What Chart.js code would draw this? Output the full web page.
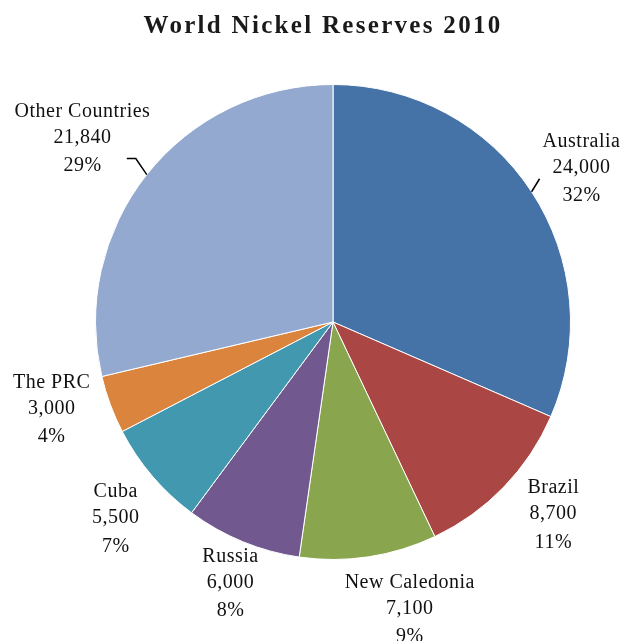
<!DOCTYPE html>
<html>
<head>
<meta charset="utf-8">
<script src="https://cdn.jsdelivr.net/npm/chart.js@4/dist/chart.umd.min.js"></script>
<style>
  html, body { margin: 0; padding: 0; background: #fff; }
  #wrap { width: 624px; height: 641px; }
</style>
</head>
<body>
<div id="wrap"><canvas id="c" width="624" height="641"></canvas></div>
<script>
// World nickel reserves, 2010 (thousand tonnes), clockwise from 12 o'clock
const countries = ['Australia', 'Brazil', 'New Caledonia', 'Russia', 'Cuba', 'The PRC', 'Other Countries'];
const reserves = [24000, 8700, 7100, 6000, 5500, 3000, 21840];
const sliceColors = ['#4572A7', '#AA4643', '#89A54E', '#71588F', '#4198AF', '#DB843D', '#93A9CF'];
const chartTitle = 'World Nickel Reserves 2010';

// Label placement: distance from centre (in radii) and an angular nudge (degrees)
const labelDistance = [1.232, 1.23, 1.249, 1.179, 1.232, 1.239, 1.31];
const labelNudge = [1.4, -3, -6.4, -0.9, -1.6, 3.3, -2];

const total = reserves.reduce((a, b) => a + b, 0);
const SERIF = '"Liberation Serif", "Times New Roman", serif';

const titlePlugin = {
  id: 'titleText',
  afterDraw(chart) {
    const ctx = chart.ctx;
    ctx.save();
    ctx.font = 'bold 25px ' + SERIF;
    ctx.letterSpacing = '2.3px';
    ctx.fillStyle = '#1a1a1a';
    ctx.textAlign = 'center';
    ctx.textBaseline = 'alphabetic';
    ctx.fillText(chartTitle, 323, 33);
    ctx.restore();
  }
};

const sliceLabels = {
  id: 'sliceLabels',
  afterDatasetsDraw(chart) {
    const ctx = chart.ctx;
    const arcs = chart.getDatasetMeta(0).data;
    ctx.save();
    ctx.font = '20px ' + SERIF;
    ctx.letterSpacing = '0.5px';
    ctx.fillStyle = '#111';
    ctx.textAlign = 'center';
    ctx.textBaseline = 'middle';
    arcs.forEach((arc, i) => {
      const p = arc.getProps(['x', 'y', 'startAngle', 'endAngle', 'outerRadius'], true);
      const mid = (p.startAngle + p.endAngle) / 2;
      const a = mid + labelNudge[i] * Math.PI / 180;
      const lx = p.x + Math.cos(a) * p.outerRadius * labelDistance[i];
      const ly = p.y + Math.sin(a) * p.outerRadius * labelDistance[i];
      const pct = Math.round(reserves[i] / total * 100) + '%';
      ctx.fillText(countries[i], lx, ly - 26);
      ctx.fillText(reserves[i].toLocaleString('en-US'), lx, ly);
      ctx.fillText(pct, lx, ly + 28.5);

      // leader lines for the two large slices, starting on the slice edge
      if (i === 0 || i === 6) {
        const r = p.outerRadius;
        const sx = p.x + Math.cos(mid) * r;
        const sy = p.y + Math.sin(mid) * r;
        ctx.beginPath();
        ctx.strokeStyle = '#000';
        ctx.lineWidth = 1.5;
        ctx.moveTo(sx, sy);
        if (i === 0) {
          ctx.lineTo(sx + 8, sy - 13);
        } else {
          ctx.lineTo(sx - 11, sy - 16);
          ctx.lineTo(sx - 20, sy - 16);
        }
        ctx.stroke();
      }
    });
    ctx.restore();
  }
};

new Chart(document.getElementById('c'), {
  type: 'pie',
  data: {
    labels: countries,
    datasets: [{
      data: reserves,
      backgroundColor: sliceColors,
      borderColor: '#ffffff',
      borderWidth: 1
    }]
  },
  options: {
    responsive: false,
    animation: false,
    devicePixelRatio: 1,
    layout: { padding: { left: 95, right: 53, top: 84, bottom: 81 } },
    plugins: {
      legend: { display: false },
      title: { display: false },
      tooltip: { enabled: false }
    }
  },
  plugins: [titlePlugin, sliceLabels]
});
</script>
</body>
</html>
